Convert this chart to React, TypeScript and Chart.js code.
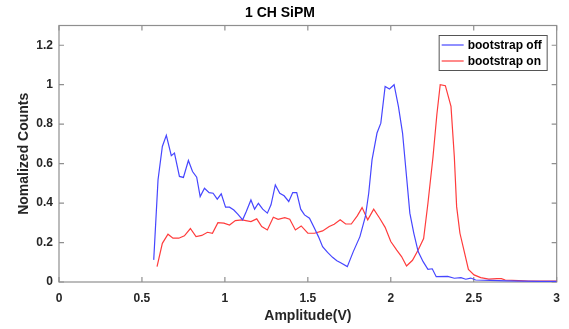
import React, { useEffect, useRef } from "react";
import { Chart, registerables } from "chart.js";

Chart.register(...registerables);

const chartTitle = "1 CH SiPM";
const xTitle = "Amplitude(V)";
const yTitle = "Nomalized Counts";
const seriesNames = ["bootstrap off", "bootstrap on"];

const offX = [
  0.571, 0.597, 0.623, 0.647, 0.677, 0.696, 0.726, 0.75, 0.78, 0.805, 0.83, 0.851, 0.877, 0.905,
  0.929, 0.954, 0.978, 1.004, 1.028, 1.054, 1.079, 1.107, 1.129, 1.157, 1.179, 1.202, 1.228,
  1.256, 1.278, 1.304, 1.331, 1.357, 1.385, 1.409, 1.433, 1.457, 1.48, 1.51, 1.54, 1.564, 1.589,
  1.619, 1.649, 1.675, 1.698, 1.738, 1.774, 1.814, 1.847, 1.867, 1.887, 1.917, 1.94, 1.966,
  1.992, 2.02, 2.046, 2.071, 2.095, 2.115, 2.139, 2.165, 2.195, 2.224, 2.25, 2.274, 2.343,
  2.383, 2.423, 2.452, 2.482, 2.512, 2.6, 2.7, 2.8, 2.9, 3.0,
];
const offY = [
  0.112, 0.518, 0.687, 0.743, 0.64, 0.653, 0.535, 0.53, 0.616, 0.56, 0.531, 0.433, 0.475, 0.453,
  0.45, 0.42, 0.447, 0.379, 0.379, 0.365, 0.343, 0.315, 0.357, 0.416, 0.369, 0.399, 0.369,
  0.349, 0.391, 0.492, 0.45, 0.437, 0.408, 0.453, 0.453, 0.369, 0.34, 0.323, 0.272, 0.23, 0.179,
  0.15, 0.125, 0.108, 0.098, 0.078, 0.154, 0.23, 0.332, 0.45, 0.619, 0.755, 0.805, 0.991,
  0.978, 1.0, 0.89, 0.755, 0.535, 0.349, 0.247, 0.154, 0.103, 0.064, 0.067, 0.027, 0.028,
  0.019, 0.022, 0.014, 0.02, 0.01, 0.008, 0.006, 0.004, 0.003, 0.003,
];

const onX = [
  0.591, 0.623, 0.657, 0.687, 0.722, 0.756, 0.792, 0.826, 0.861, 0.895, 0.925, 0.958, 0.994,
  1.028, 1.063, 1.103, 1.157, 1.192, 1.222, 1.256, 1.292, 1.321, 1.361, 1.391, 1.425, 1.46, 1.5,
  1.54, 1.589, 1.629, 1.659, 1.695, 1.728, 1.762, 1.798, 1.827, 1.861, 1.897, 1.933, 1.966, 2.0,
  2.036, 2.065, 2.095, 2.131, 2.165, 2.198, 2.224, 2.254, 2.278, 2.298, 2.329, 2.363, 2.383,
  2.397, 2.417, 2.443, 2.468, 2.502, 2.542, 2.591, 2.64, 2.667, 2.69, 2.77, 2.83, 2.9, 3.0,
];
const onY = [
  0.078, 0.196, 0.242, 0.222, 0.222, 0.234, 0.271, 0.23, 0.236, 0.252, 0.247, 0.301, 0.298,
  0.289, 0.311, 0.315, 0.306, 0.32, 0.281, 0.264, 0.328, 0.318, 0.326, 0.318, 0.264, 0.284, 0.247,
  0.247, 0.259, 0.281, 0.293, 0.315, 0.294, 0.294, 0.335, 0.377, 0.315, 0.369, 0.323, 0.277, 0.205,
  0.162, 0.129, 0.081, 0.11, 0.162, 0.22, 0.399, 0.63, 0.85, 1.0, 0.995, 0.89, 0.636,
  0.382, 0.247, 0.154, 0.064, 0.036, 0.022, 0.015, 0.017, 0.017, 0.01, 0.007, 0.005, 0.004, 0.004,
];

const colors = ["rgb(70,70,255)", "rgb(255,60,60)"];
const FONT = "'Liberation Sans', Arial, Helvetica, sans-serif";
const AXIS_COLOR = "#8f8f8f";
const TEXT_COLOR = "#262626";

const fmt = (v: any) => String(+Number(v).toFixed(2));

const framePlugin = {
  id: "frameTicks",
  beforeDatasetsDraw(chart: any) {
    const { ctx, chartArea: a, scales } = chart;
    const xs = scales.x;
    const ys = scales.y;
    const L = 5;
    ctx.save();
    ctx.strokeStyle = AXIS_COLOR;
    ctx.lineWidth = 1.2;
    ctx.strokeRect(a.left, a.top, a.right - a.left, a.bottom - a.top);
    ctx.beginPath();
    xs.ticks.forEach((t: any) => {
      const p = xs.getPixelForValue(t.value);
      ctx.moveTo(p, a.bottom);
      ctx.lineTo(p, a.bottom - L);
      ctx.moveTo(p, a.top);
      ctx.lineTo(p, a.top + L);
    });
    ys.ticks.forEach((t: any) => {
      const p = ys.getPixelForValue(t.value);
      ctx.moveTo(a.left, p);
      ctx.lineTo(a.left + L, p);
      ctx.moveTo(a.right, p);
      ctx.lineTo(a.right - L, p);
    });
    ctx.stroke();
    ctx.restore();
  },
};

const legendPlugin = {
  id: "insetLegend",
  afterDatasetsDraw(chart: any) {
    const { ctx, chartArea: a } = chart;
    const w = 108;
    const h = 35;
    const left = a.right - 118;
    const top = a.top + 9.5;
    ctx.save();
    ctx.fillStyle = "#ffffff";
    ctx.fillRect(left, top, w, h);
    ctx.strokeStyle = "#555555";
    ctx.lineWidth = 1;
    ctx.strokeRect(left + 0.5, top + 0.5, w, h);
    ctx.font = `bold 12px ${FONT}`;
    ctx.textBaseline = "middle";
    ctx.textAlign = "left";
    seriesNames.forEach((name, i) => {
      const y = top + 10 + i * 16;
      ctx.strokeStyle = colors[i];
      ctx.lineWidth = 1.2;
      ctx.beginPath();
      ctx.moveTo(left + 3, y);
      ctx.lineTo(left + 25, y);
      ctx.stroke();
      ctx.fillStyle = "#000000";
      ctx.fillText(name, left + 29, y + 0.5);
    });
    ctx.restore();
  },
};

export default function App() {
  const ref = useRef<HTMLCanvasElement | null>(null);
  useEffect(() => {
    if (!ref.current) return;
    const chart = new Chart(ref.current, {
      type: "line",
      data: {
        datasets: [
          {
            label: seriesNames[0],
            data: offX.map((x, i) => ({ x, y: offY[i] })),
            borderColor: colors[0],
            borderWidth: 1.2,
            pointRadius: 0,
            tension: 0,
            fill: false,
          },
          {
            label: seriesNames[1],
            data: onX.map((x, i) => ({ x, y: onY[i] })),
            borderColor: colors[1],
            borderWidth: 1.2,
            pointRadius: 0,
            tension: 0,
            fill: false,
          },
        ],
      },
      options: {
        responsive: false,
        animation: false,
        devicePixelRatio: 1,
        layout: { padding: { left: 0, right: 9, top: 0, bottom: 0 } },
        plugins: {
          legend: { display: false },
          tooltip: { enabled: false },
          title: {
            display: true,
            text: chartTitle,
            color: "#000000",
            font: { family: FONT, size: 14, weight: "bold" },
            padding: { top: 5, bottom: 3.7 },
          },
        },
        scales: {
          x: {
            type: "linear",
            min: 0,
            max: 3,
            grid: { display: false, drawTicks: false },
            border: { display: false },
            ticks: {
              stepSize: 0.5,
              padding: 9,
              color: TEXT_COLOR,
              font: { family: FONT, size: 12, weight: "bold" },
              maxRotation: 0,
              callback: fmt,
            },
            title: {
              display: true,
              text: xTitle,
              color: TEXT_COLOR,
              font: { family: FONT, size: 14, weight: "bold" },
              padding: { top: 0, bottom: 4 },
            },
            afterFit: (s: any) => {
              s.height = 47;
            },
          },
          y: {
            type: "linear",
            min: 0,
            max: 1.3,
            grid: { display: false, drawTicks: false },
            border: { display: false },
            ticks: {
              stepSize: 0.2,
              includeBounds: false,
              padding: 6,
              color: TEXT_COLOR,
              font: { family: FONT, size: 12, weight: "bold" },
              callback: fmt,
            },
            title: {
              display: true,
              text: yTitle,
              color: TEXT_COLOR,
              font: { family: FONT, size: 14, weight: "bold" },
              padding: { top: 16, bottom: 0 },
            },
            afterFit: (s: any) => {
              s.width = 59;
            },
          },
        },
      },
      plugins: [framePlugin, legendPlugin],
    });
    return () => chart.destroy();
  }, []);
  return (
    <div style={{ position: "absolute", left: 0, top: 0, width: 569, height: 329, background: "#fff" }}>
      <canvas ref={ref} width={569} height={329} style={{ display: "block" }} />
    </div>
  );
}
